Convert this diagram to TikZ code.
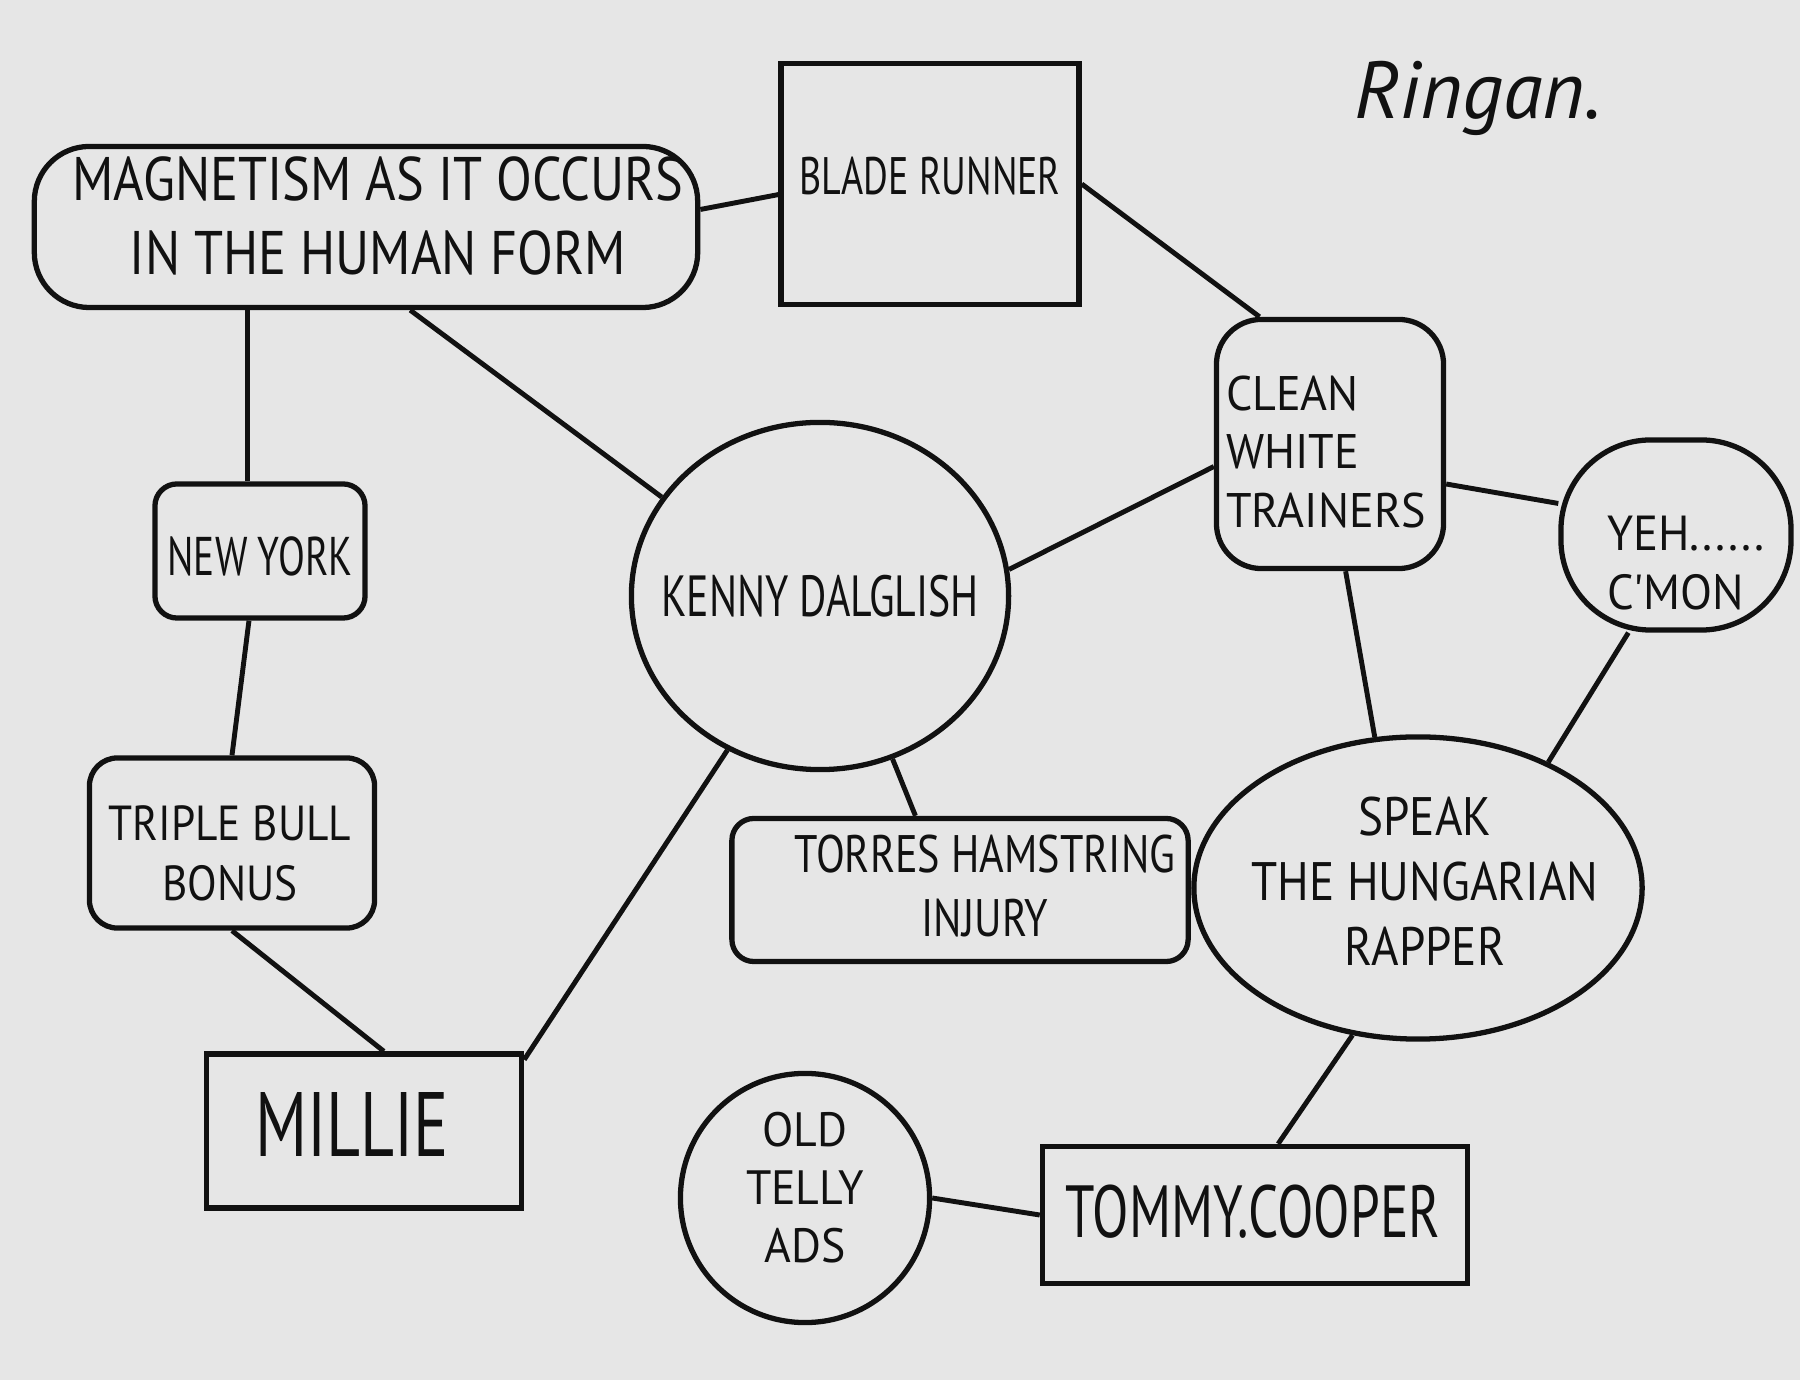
\documentclass[tikz,border=0pt]{standalone}
\usepackage{fontspec}
\setmainfont{PT Sans}
\usetikzlibrary{shapes.geometric}
\definecolor{paper}{HTML}{E6E6E6}
\definecolor{ink}{HTML}{111111}
\tikzset{
  box/.style={draw=ink, line width=1.5pt, inner sep=0pt, align=center},
  rbox/.style={box, rounded corners=#1},
  txt/.style={inner sep=0pt, align=center, text=ink},
  link/.style={draw=ink, line width=1.4pt},
}
% #1 size, #2 baselineskip, #3 horizontal stretch
\newcommand{\hf}[3]{\fontspec[FakeStretch=#3]{PT Sans}\fontsize{#1}{#2}\selectfont}
\begin{document}
\begin{tikzpicture}[x=0.01cm,y=-0.01cm]
\fill[paper] (0,0) rectangle (1800,1380);
\useasboundingbox (0,0) rectangle (1800,1380);

% shapes
\node[rbox=0.55cm, minimum width=6.63cm, minimum height=1.61cm] (mag) at (366,227) {};
\node[box, minimum width=2.98cm, minimum height=2.41cm] (blade) at (930,184) {};
\node[rbox=0.45cm, minimum width=2.27cm, minimum height=2.49cm] (clean) at (1330,444) {};
\node[rbox=0.9cm, minimum width=2.30cm, minimum height=1.90cm] (yeh) at (1676,535) {};
\node[box, ellipse, minimum width=3.77cm, minimum height=3.47cm] (kenny) at (820,596) {};
\node[rbox=0.22cm, minimum width=2.10cm, minimum height=1.34cm] (ny) at (260,551) {};
\node[rbox=0.28cm, minimum width=2.85cm, minimum height=1.70cm] (tb) at (232,843) {};
\node[rbox=0.22cm, minimum width=4.56cm, minimum height=1.43cm] (torres) at (960,890) {};
\node[box, ellipse, minimum width=4.48cm, minimum height=3.02cm] (speak) at (1418,888) {};
\node[box, minimum width=3.15cm, minimum height=1.54cm] (millie) at (364,1131) {};
\node[box, circle, minimum size=2.49cm] (telly) at (805,1198) {};
\node[box, minimum width=4.25cm, minimum height=1.37cm] (tommy) at (1255,1215) {};

% texts
\node[txt, font=\hf{17.5}{21}{0.85}] (magT) at (378,216) {MAGNETISM AS IT OCCURS\\IN THE HUMAN FORM};
\node[txt, font=\hf{15}{18}{0.72}] (bladeT) at (930,176) {BLADE RUNNER};
\node[txt, align=left, font=\hf{13.8}{16.6}{0.95}] (cleanT) at (1326,452) {CLEAN\\WHITE\\TRAINERS};
\node[txt, align=left, font=\hf{14}{17}{0.95}] (yehT) at (1686,563) {YEH......\\C'MON};
\node[txt, font=\hf{16.5}{20}{0.72}] (kennyT) at (820,596) {KENNY DALGLISH};
\node[txt, font=\hf{15.5}{18}{0.72}] (nyT) at (260,556) {NEW YORK};
\node[txt, font=\hf{14}{17}{0.88}] (tbT) at (230,853) {TRIPLE BULL\\BONUS};
\node[txt, font=\hf{15}{18}{0.8}] (torresT) at (985,886) {TORRES HAMSTRING\\INJURY};
\node[txt, font=\hf{15.4}{18.5}{0.87}] (speakT) at (1425,881) {SPEAK\\THE HUNGARIAN\\RAPPER};
\node[txt, font=\hf{26}{28}{0.72}] (millieT) at (352,1124) {MILLIE};
\node[txt, font=\hf{13.7}{16.5}{0.95}] (tellyT) at (805,1188) {OLD\\TELLY\\ADS};
\node[txt, font=\hf{21}{26}{0.72}] (tommyT) at (1253,1212) {TOMMY.COOPER};

\node[txt, font=\fontsize{23}{26}\selectfont\itshape] (ringan) at (1478,98) {Ringan.};

% connectors
\draw[link] (mag.3) -- (blade.-176);
\draw[link] (blade.east) -- (clean.119);
\draw[link] (mag.south -| ny.100) -- (ny.100);
\draw[link] (mag.-62) -- (kenny.148);
\draw[link] (ny.-99) -- (tb.north);
\draw[link] (tb.south) -- (millie.76);
\draw[link] (millie.24) -- (kenny.-121);
\draw[link] (kenny.-66) -- (torres.121);
\draw[link] (kenny.8) -- (clean.-169);
\draw[link] (clean.-19) -- (yeh.165);
\draw[link] (clean.-83) -- (speak.106);
\draw[link] (yeh.-116) -- (speak.44);
\draw[link] (speak.-114) -- (tommy.72);
\draw[link] (telly.east) -- (tommy.west);
\end{tikzpicture}
\end{document}
